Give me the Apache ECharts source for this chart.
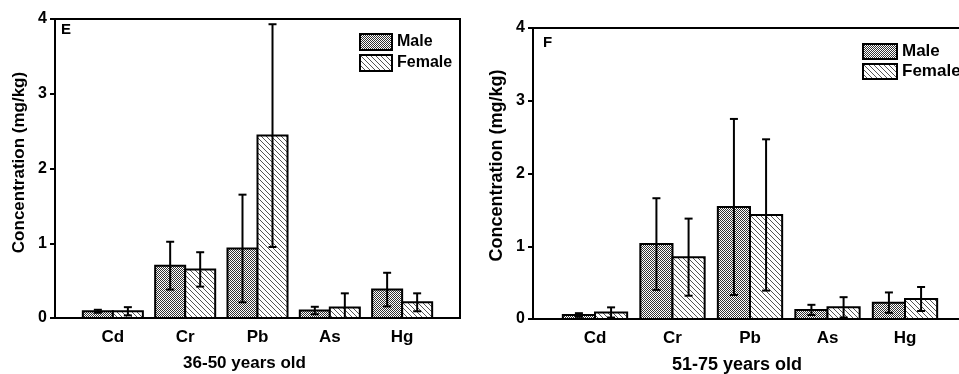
<!DOCTYPE html>
<html>
<head>
<meta charset="utf-8">
<script src="https://cdn.jsdelivr.net/npm/echarts@6/dist/echarts.min.js"></script>
<style>
  html, body { margin: 0; padding: 0; background: #fff; }
  #container { width: 959px; height: 374px; }
</style>
</head>
<body>
<div id="container"></div>
<script>
var categories = ['Cd', 'Cr', 'Pb', 'As', 'Hg'];

// panel E: 36-50 years old
var maleMeanE   = [0.09, 0.70, 0.93, 0.10, 0.38];
var maleSdE     = [0.02, 0.32, 0.72, 0.05, 0.225];
var femaleMeanE = [0.09, 0.65, 2.44, 0.14, 0.21];
var femaleSdE   = [0.055, 0.23, 1.49, 0.19, 0.12];

// panel F: 51-75 years old
var maleMeanF   = [0.055, 1.03, 1.54, 0.125, 0.225];
var maleSdF     = [0.025, 0.63, 1.21, 0.07, 0.14];
var femaleMeanF = [0.09, 0.85, 1.43, 0.16, 0.275];
var femaleSdF   = [0.07, 0.53, 1.04, 0.14, 0.165];

var FONT = 'Liberation Sans, Arial, sans-serif';
var BAR_W = 0.415;

// fill patterns: fine checker for male, "\" hatch for female
function makePattern(size, draw) {
    var c = document.createElement('canvas');
    c.width = size; c.height = size;
    var ctx = c.getContext('2d');
    ctx.fillStyle = '#fff';
    ctx.fillRect(0, 0, size, size);
    draw(ctx);
    return { image: c, repeat: 'repeat' };
}
var maleFill = makePattern(2, function (ctx) {
    ctx.fillStyle = '#333';
    ctx.fillRect(0, 0, 1, 1);
    ctx.fillRect(1, 1, 1, 1);
});
var femaleFill = makePattern(5, function (ctx) {
    ctx.fillStyle = '#555';
    for (var i = 0; i < 5; i++) ctx.fillRect(i, i, 1, 1);
});

function pairData(means, sds) {
    return means.map(function (m, i) { return [i + 1, m, sds[i]]; });
}

function barSeries(name, means, sds, side, axis, fill) {
    return {
        type: 'custom',
        name: name,
        xAxisIndex: axis,
        yAxisIndex: axis,
        clip: true,
        itemStyle: { color: fill, borderColor: '#000', borderWidth: 2 },
        encode: { x: 0, y: 1 },
        data: pairData(means, sds),
        renderItem: function (params, api) {
            var x = api.value(0), m = api.value(1), s = api.value(2);
            var left = side < 0 ? x - BAR_W : x;
            var right = side < 0 ? x : x + BAR_W;
            var tl = api.coord([left, m]);
            var br = api.coord([right, 0]);
            var cx = api.coord([(left + right) / 2, 0])[0];
            var hi = api.coord([x, m + s])[1];
            var lo = api.coord([x, m - s])[1];
            var lineStyle = { stroke: '#000', lineWidth: 2 };
            return {
                type: 'group',
                children: [
                    { type: 'rect', shape: { x: tl[0], y: tl[1], width: br[0] - tl[0], height: br[1] - tl[1] },
                      style: { fill: fill, stroke: '#000', lineWidth: 2 } },
                    { type: 'line', shape: { x1: cx, y1: hi, x2: cx, y2: lo }, style: lineStyle },
                    { type: 'line', shape: { x1: cx - 4, y1: hi, x2: cx + 4, y2: hi }, style: lineStyle },
                    { type: 'line', shape: { x1: cx - 4, y1: lo, x2: cx + 4, y2: lo }, style: lineStyle }
                ]
            };
        }
    };
}

function xAxisFor(idx, name, fs) {
    return {
        type: 'value',
        gridIndex: idx,
        min: 0.2,
        max: 5.8,
        splitLine: { show: false },
        axisTick: { show: false },
        axisLine: { show: true, lineStyle: { color: '#000', width: 2 } },
        axisLabel: {
            customValues: [1, 2, 3, 4, 5],
            formatter: function (v) { return categories[Math.round(v) - 1]; },
            color: '#000', fontFamily: FONT, fontWeight: 'bold', fontSize: 17, margin: 11
        },
        name: name,
        nameLocation: 'middle',
        nameGap: 37,
        nameTextStyle: { color: '#000', fontFamily: FONT, fontWeight: 'bold', fontSize: fs, padding: [0, 26, 0, 0] }
    };
}

function yAxisFor(idx, fs, pad) {
    return {
        type: 'value',
        gridIndex: idx,
        min: 0,
        max: 4,
        interval: 1,
        splitLine: { show: false },
        axisLine: { show: true, lineStyle: { color: '#000', width: 2 } },
        axisTick: { show: true, inside: false, length: 5, lineStyle: { color: '#000', width: 2 } },
        axisLabel: { color: '#000', fontFamily: FONT, fontWeight: 'bold', fontSize: 16, margin: 8 },
        name: 'Concentration (mg/kg)',
        nameLocation: 'middle',
        nameRotate: 90,
        nameGap: 27,
        nameTextStyle: { color: '#000', fontFamily: FONT, fontWeight: 'bold', fontSize: fs, padding: [0, 0, 0, pad] }
    };
}

var dom = document.getElementById('container');
var myChart = echarts.init(dom, null, { renderer: 'canvas' });

var option = {
    animation: false,
    backgroundColor: '#fff',
    title: [
        { text: 'E', left: 61, top: 22, padding: 0, textStyle: { color: '#000', fontFamily: FONT, fontWeight: 'bold', fontSize: 15 } },
        { text: 'F', left: 543, top: 35, padding: 0, textStyle: { color: '#000', fontFamily: FONT, fontWeight: 'bold', fontSize: 15 } }
    ],
    legend: [
        { data: ['Male', 'Female'], orient: 'vertical', left: 359, top: 33, padding: 0,
          itemWidth: 32, itemHeight: 16, itemGap: 3, icon: 'rect',
          itemStyle: { borderColor: '#000', borderWidth: 2 },
          textStyle: { color: '#000', fontFamily: FONT, fontWeight: 'bold', fontSize: 16 } },
        { data: ['Male', 'Female'], orient: 'vertical', left: 862, top: 43, padding: 0,
          itemWidth: 34, itemHeight: 15, itemGap: 3, icon: 'rect',
          itemStyle: { borderColor: '#000', borderWidth: 2 },
          textStyle: { color: '#000', fontFamily: FONT, fontWeight: 'bold', fontSize: 17 } }
    ],
    grid: [
        { left: 55, top: 19, width: 405, height: 299, show: true, borderColor: '#000', borderWidth: 2, outerBoundsMode: 'none' },
        { left: 533, top: 28, width: 434, height: 291, show: true, borderColor: '#000', borderWidth: 2, outerBoundsMode: 'none' }
    ],
    xAxis: [
        xAxisFor(0, '36-50 years old', 17),
        xAxisFor(1, '51-75 years old', 18)
    ],
    yAxis: [
        yAxisFor(0, 17, 12),
        yAxisFor(1, 18, 16)
    ],
    series: [
        barSeries('Male', maleMeanE, maleSdE, -1, 0, maleFill),
        barSeries('Female', femaleMeanE, femaleSdE, 1, 0, femaleFill),
        barSeries('Male', maleMeanF, maleSdF, -1, 1, maleFill),
        barSeries('Female', femaleMeanF, femaleSdF, 1, 1, femaleFill)
    ]
};

if (option && typeof option === 'object') {
    myChart.setOption(option, true);
}
</script>
</body>
</html>
